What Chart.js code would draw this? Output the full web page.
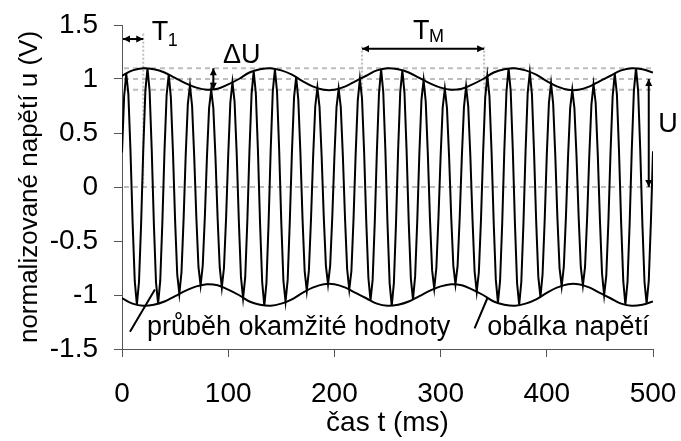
<!DOCTYPE html>
<html>
<head>
<meta charset="utf-8">
<script src="https://cdn.jsdelivr.net/npm/chart.js@4/dist/chart.umd.min.js"></script>
<style>
  body { margin: 0; background: #fff; }
  canvas { display: block; }
</style>
</head>
<body>
<canvas id="graf" width="681" height="441"></canvas>
<script>
// cas vzorku (ms), krok 2 ms
const casMs = [
  0, 2, 4, 6, 8, 10, 12, 14, 16, 18,
  20, 22, 24, 26, 28, 30, 32, 34, 36, 38,
  40, 42, 44, 46, 48, 50, 52, 54, 56, 58,
  60, 62, 64, 66, 68, 70, 72, 74, 76, 78,
  80, 82, 84, 86, 88, 90, 92, 94, 96, 98,
  100, 102, 104, 106, 108, 110, 112, 114, 116, 118,
  120, 122, 124, 126, 128, 130, 132, 134, 136, 138,
  140, 142, 144, 146, 148, 150, 152, 154, 156, 158,
  160, 162, 164, 166, 168, 170, 172, 174, 176, 178,
  180, 182, 184, 186, 188, 190, 192, 194, 196, 198,
  200, 202, 204, 206, 208, 210, 212, 214, 216, 218,
  220, 222, 224, 226, 228, 230, 232, 234, 236, 238,
  240, 242, 244, 246, 248, 250, 252, 254, 256, 258,
  260, 262, 264, 266, 268, 270, 272, 274, 276, 278,
  280, 282, 284, 286, 288, 290, 292, 294, 296, 298,
  300, 302, 304, 306, 308, 310, 312, 314, 316, 318,
  320, 322, 324, 326, 328, 330, 332, 334, 336, 338,
  340, 342, 344, 346, 348, 350, 352, 354, 356, 358,
  360, 362, 364, 366, 368, 370, 372, 374, 376, 378,
  380, 382, 384, 386, 388, 390, 392, 394, 396, 398,
  400, 402, 404, 406, 408, 410, 412, 414, 416, 418,
  420, 422, 424, 426, 428, 430, 432, 434, 436, 438,
  440, 442, 444, 446, 448, 450, 452, 454, 456, 458,
  460, 462, 464, 466, 468, 470, 472, 474, 476, 478,
  480, 482, 484, 486, 488, 490, 492, 494, 496, 498,
  500
];

// okamzita hodnota napeti (V), jedna perioda na radek
const napeti = [
  0.32, 0.84, 1.05, 0.86, 0.33, -0.33, -0.87, -1.09, -0.88, -0.34,
  0.34, 0.89, 1.10, 0.89, 0.34, -0.34, -0.88, -1.08, -0.87, -0.33,
  0.33, 0.85, 1.04, 0.83, 0.32, -0.31, -0.81, -0.99, -0.79, -0.30,
  0.30, 0.77, 0.94, 0.75, 0.28, -0.28, -0.74, -0.91, -0.73, -0.28,
  0.28, 0.73, 0.90, 0.73, 0.28, -0.28, -0.74, -0.93, -0.75, -0.29,
  0.29, 0.78, 0.97, 0.79, 0.31, -0.31, -0.83, -1.03, -0.84, -0.32,
  0.33, 0.86, 1.07, 0.87, 0.34, -0.34, -0.88, -1.10, -0.89, -0.34,
  0.34, 0.89, 1.09, 0.88, 0.34, -0.33, -0.87, -1.06, -0.86, -0.32,
  0.32, 0.83, 1.02, 0.81, 0.31, -0.30, -0.78, -0.96, -0.77, -0.29,
  0.29, 0.75, 0.92, 0.74, 0.28, -0.28, -0.73, -0.90, -0.73, -0.28,
  0.28, 0.74, 0.91, 0.74, 0.28, -0.29, -0.76, -0.95, -0.78, -0.30,
  0.30, 0.80, 1.00, 0.82, 0.32, -0.32, -0.84, -1.05, -0.86, -0.33,
  0.33, 0.87, 1.09, 0.88, 0.34, -0.34, -0.89, -1.10, -0.89, -0.34,
  0.34, 0.88, 1.08, 0.87, 0.33, -0.33, -0.85, -1.04, -0.83, -0.32,
  0.31, 0.81, 0.99, 0.79, 0.30, -0.30, -0.77, -0.94, -0.75, -0.28,
  0.28, 0.74, 0.91, 0.73, 0.28, -0.28, -0.73, -0.90, -0.73, -0.28,
  0.28, 0.74, 0.93, 0.75, 0.29, -0.29, -0.78, -0.97, -0.79, -0.31,
  0.31, 0.83, 1.03, 0.84, 0.32, -0.33, -0.86, -1.07, -0.87, -0.34,
  0.34, 0.88, 1.10, 0.89, 0.34, -0.34, -0.89, -1.09, -0.88, -0.34,
  0.33, 0.87, 1.06, 0.86, 0.32, -0.32, -0.83, -1.02, -0.81, -0.31,
  0.30, 0.78, 0.96, 0.77, 0.29, -0.29, -0.75, -0.92, -0.74, -0.28,
  0.28, 0.73, 0.90, 0.73, 0.28, -0.28, -0.74, -0.91, -0.74, -0.28,
  0.29, 0.76, 0.95, 0.78, 0.30, -0.30, -0.80, -1.00, -0.82, -0.32,
  0.32, 0.84, 1.05, 0.86, 0.33, -0.33, -0.87, -1.09, -0.88, -0.34,
  0.34, 0.89, 1.10, 0.89, 0.34, -0.34, -0.88, -1.08, -0.87, -0.33,
  0.33
];

// obalka, krok 10 ms
const casObalka = [
  0, 10, 20, 30, 40, 50, 60, 70, 80, 90,
  100, 110, 120, 130, 140, 150, 160, 170, 180, 190,
  200, 210, 220, 230, 240, 250, 260, 270, 280, 290,
  300, 310, 320, 330, 340, 350, 360, 370, 380, 390,
  400, 410, 420, 430, 440, 450, 460, 470, 480, 490,
  500
];
const obalkaHorni = [
  1.03, 1.08, 1.10, 1.09, 1.06, 1.01, 0.96, 0.92, 0.90, 0.91,
  0.95, 1.00, 1.06, 1.09, 1.10, 1.08, 1.04, 0.98, 0.93, 0.90,
  0.90, 0.93, 0.98, 1.03, 1.08, 1.10, 1.09, 1.06, 1.01, 0.96,
  0.92, 0.90, 0.91, 0.95, 1.00, 1.06, 1.09, 1.10, 1.08, 1.04,
  0.98, 0.93, 0.90, 0.90, 0.93, 0.98, 1.03, 1.08, 1.10, 1.09,
  1.06
];
const obalkaDolni = [
  -1.03, -1.08, -1.10, -1.09, -1.06, -1.01, -0.96, -0.92, -0.90, -0.91,
  -0.95, -1.00, -1.06, -1.09, -1.10, -1.08, -1.04, -0.98, -0.93, -0.90,
  -0.90, -0.93, -0.98, -1.03, -1.08, -1.10, -1.09, -1.06, -1.01, -0.96,
  -0.92, -0.90, -0.91, -0.95, -1.00, -1.06, -1.09, -1.10, -1.08, -1.04,
  -0.98, -0.93, -0.90, -0.90, -0.93, -0.98, -1.03, -1.08, -1.10, -1.09,
  -1.06
];

// pomocne carkovane urovne
const urovne = [1.1, 1.0, 0.9, 0];

const FONT = '"Liberation Sans", Arial, sans-serif';

const toPoints = (xs, ys) => xs.map((x, i) => ({ x: x, y: ys[i] }));

const sipka = (ctx, x1, y1, x2, y2) => {
  // obousmerna sipka
  const ang = Math.atan2(y2 - y1, x2 - x1);
  const len = 7, half = 3.5;
  ctx.beginPath();
  ctx.moveTo(x1, y1);
  ctx.lineTo(x2, y2);
  ctx.stroke();
  [[x1, y1, ang + Math.PI], [x2, y2, ang]].forEach(([px, py, a]) => {
    ctx.beginPath();
    ctx.moveTo(px, py);
    ctx.lineTo(px - len * Math.cos(a) + half * Math.sin(a), py - len * Math.sin(a) - half * Math.cos(a));
    ctx.lineTo(px - len * Math.cos(a) - half * Math.sin(a), py - len * Math.sin(a) + half * Math.cos(a));
    ctx.closePath();
    ctx.fill();
  });
};

const popisky = {
  id: "popisky",
  beforeDatasetsDraw(chart) {
    const { ctx, chartArea } = chart;
    const xs = chart.scales.x, ys = chart.scales.y;
    ctx.save();
    ctx.strokeStyle = "#bdbdbd";
    ctx.lineWidth = 2;
    ctx.setLineDash([5, 4]);
    urovne.forEach((u) => {
      const py = ys.getPixelForValue(u);
      ctx.beginPath();
      ctx.moveTo(chartArea.left + 2, py);
      ctx.lineTo(chartArea.right, py);
      ctx.stroke();
    });
    // teckovane svisle znacky
    ctx.setLineDash([2, 2]);
    const svisle = [[20, 1.42, 0], [226, 1.3, 0.9], [341, 1.3, 0.9]];
    svisle.forEach(([t, a, b]) => {
      const px = xs.getPixelForValue(t);
      ctx.beginPath();
      ctx.moveTo(px, ys.getPixelForValue(a));
      ctx.lineTo(px, ys.getPixelForValue(b));
      ctx.stroke();
    });
    ctx.restore();
  },
  afterDatasetsDraw(chart) {
    const { ctx } = chart;
    const xs = chart.scales.x, ys = chart.scales.y;
    const X = (t) => xs.getPixelForValue(t);
    const Y = (v) => ys.getPixelForValue(v);
    ctx.save();
    ctx.strokeStyle = "#000";
    ctx.fillStyle = "#000";
    ctx.lineWidth = 2;
    sipka(ctx, X(0) + 1, Y(1.37), X(20), Y(1.37));
    sipka(ctx, X(86), Y(1.1), X(86), Y(0.9));
    sipka(ctx, X(226), Y(1.28), X(341), Y(1.28));
    sipka(ctx, X(496), Y(1.0), X(496), Y(0));
    // odkazove cary
    ctx.beginPath();
    ctx.moveTo(X(7.5), Y(-1.34));
    ctx.lineTo(X(31), Y(-0.95));
    ctx.moveTo(X(332), Y(-1.31));
    ctx.lineTo(X(344), Y(-1.03));
    ctx.stroke();

    ctx.textBaseline = "middle";
    ctx.textAlign = "left";
    ctx.font = "27px " + FONT;
    ctx.fillText("T", X(28), Y(1.43));
    ctx.fillText("\u0394U", X(95), Y(1.22));
    ctx.fillText("T", X(274), Y(1.44));
    ctx.fillText("U", X(505), Y(0.58));
    ctx.fillText("průběh okamžité hodnoty", X(23.5), Y(-1.30));
    ctx.fillText("obálka napětí", X(344), Y(-1.30));
    ctx.font = "18px " + FONT;
    ctx.fillText("1", X(43), Y(1.35));
    ctx.fillText("M", X(289), Y(1.39));
    ctx.restore();
  },
};

const osa = (titulek, velikost, extra) => Object.assign({
  grid: { drawOnChartArea: false, drawTicks: true, tickLength: 8, color: "#555", lineWidth: 1 },
  border: { color: "#555", width: 1 },
  title: { display: true, text: titulek, color: "#000", font: { size: velikost, family: FONT } },
}, extra);

new Chart(document.getElementById("graf").getContext("2d"), {
  type: "line",
  data: {
    datasets: [
      { data: toPoints(casMs, napeti), borderColor: "#000", borderWidth: 2, pointRadius: 0, tension: 0 },
      { data: toPoints(casObalka, obalkaHorni), borderColor: "#000", borderWidth: 2, pointRadius: 0, tension: 0.4 },
      { data: toPoints(casObalka, obalkaDolni), borderColor: "#000", borderWidth: 2, pointRadius: 0, tension: 0.4 },
    ],
  },
  options: {
    responsive: false,
    animation: false,
    layout: { padding: { top: 25, right: 28, left: 0, bottom: 0 } },
    plugins: { legend: { display: false }, tooltip: { enabled: false } },
    scales: {
      x: osa("čas t (ms)", 28, {
        type: "linear", min: 0, max: 500,
        ticks: { stepSize: 100, color: "#000", font: { size: 28, family: FONT }, padding: 20, maxRotation: 0 },
        afterFit(s) { s.height = 92; s.paddingLeft = 0; s.paddingRight = 0; },
      }),
      y: osa("normalizované napětí u (V)", 26, {
        min: -1.5, max: 1.5,
        ticks: { stepSize: 0.5, color: "#000", font: { size: 28, family: FONT }, padding: 16,
          callback: (v) => String(Math.round(v * 10) / 10) },
        afterFit(s) { s.width = 122; s.paddingTop = 0; s.paddingBottom = 0; },
      }),
    },
  },
  plugins: [popisky],
});
const g = Chart.getChart("graf");
g.options.scales.x.title.padding = { top: 0, bottom: 1 };
g.options.scales.y.title.padding = { top: 14, bottom: 0 };
g.update();
</script>
</body>
</html>
